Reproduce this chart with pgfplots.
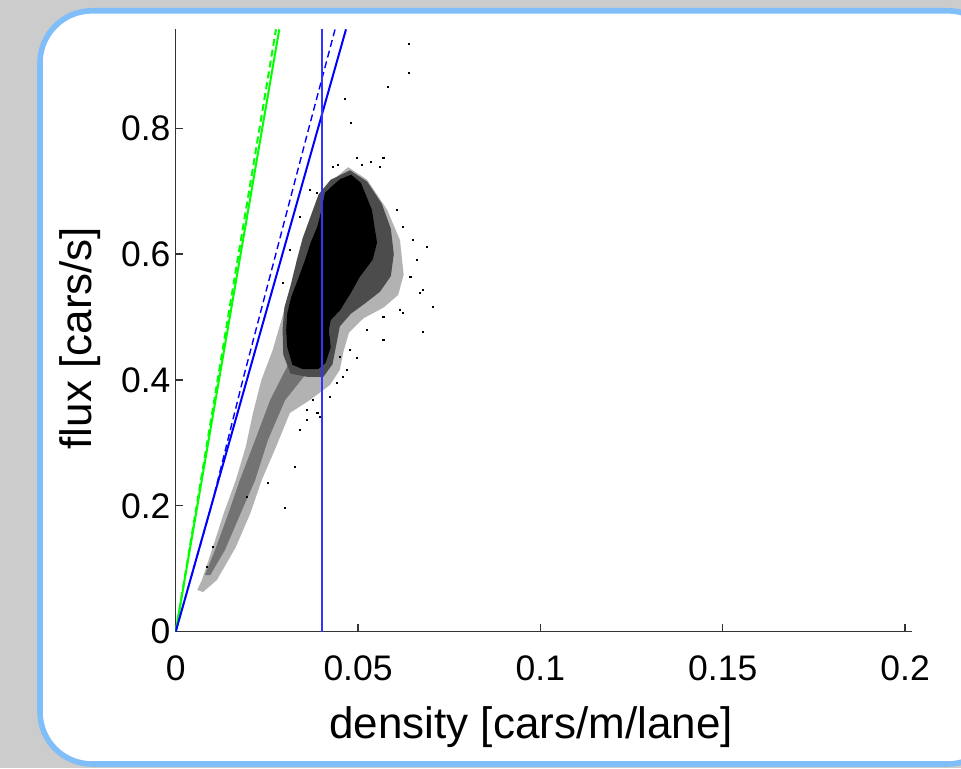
\documentclass[border=0pt]{standalone}
\usepackage{fontspec}
\setmainfont{Liberation Sans}
\usepackage{pgfplots}
\pgfplotsset{compat=1.18}
\definecolor{bggray}{RGB}{204,204,204}
\definecolor{frameblue}{RGB}{128,190,250}

\begin{document}
\begin{tikzpicture}
\useasboundingbox (0,0) rectangle (480.5pt,384pt);
\fill[bggray] (0,0) rectangle (480.5pt,384pt);
\begin{scope}
\clip (0,0) rectangle (480.5pt,384pt);
\draw[frameblue, line width=2.8pt, fill=white, rounded corners=26pt] (20pt,2pt) rectangle (500pt,378.6pt);
\end{scope}
\begin{axis}[
  at={(87.85pt,68.15pt)}, anchor=south west,
  scale only axis, width=368.15pt, height=301.2pt,
  xmin=0, xmax=0.2019, ymin=0, ymax=0.957,
  axis x line*=bottom, axis y line*=left,
  axis line style={black!80, line width=0.6pt},
  tick align=inside, major tick length=3.8pt,
  tick style={black!80, line width=0.6pt},
  xtick={0,0.05,0.1,0.15,0.2}, xticklabels={0,0.05,0.1,0.15,0.2},
  ytick={0,0.2,0.4,0.6,0.8}, yticklabels={0,0.2,0.4,0.6,0.8},
  scaled ticks=false,
  ticklabel style={font=\fontsize{17.75}{20}\selectfont},
  xticklabel style={yshift=-8.3pt},
  yticklabel style={xshift=0.9pt},
  label style={font=\fontsize{22}{26}\selectfont},
  xlabel={density [cars/m/lane]}, ylabel={flux [cars/s]},
  xlabel style={at={(axis description cs:0.4826,-0.177)}, anchor=base},
  ylabel style={at={(axis description cs:-0.1141,0.4875)}, anchor=base},
]

% sparse halo of the measured cloud
\addplot[fill=black!30, draw=none] coordinates {
  (0.0473,0.738) (0.0525,0.718) (0.0580,0.670) (0.0615,0.622) (0.0625,0.567)
  (0.0610,0.535) (0.0570,0.515) (0.0515,0.498) (0.0475,0.475) (0.0460,0.445)
  (0.0450,0.416) (0.0423,0.392) (0.0368,0.368) (0.0313,0.3475) (0.0275,0.2935)
  (0.0236,0.2411) (0.0205,0.1886) (0.0165,0.1346) (0.0113,0.0822) (0.0075,0.0630)
  (0.0059,0.0663) (0.0072,0.0822) (0.0102,0.1346) (0.0132,0.1886) (0.0165,0.2411)
  (0.0192,0.2935) (0.0212,0.3475) (0.0235,0.4000) (0.0266,0.4476) (0.0290,0.4953)
  (0.0305,0.5271) (0.0322,0.5588) (0.0333,0.5907) (0.0348,0.6224) (0.0368,0.6542)
  (0.0392,0.6860) (0.0420,0.7120)
} -- cycle;

% denser streak of the low-density branch
\addplot[fill=black!55, draw=none] coordinates {
  (0.0308,0.424) (0.0259,0.368) (0.0218,0.3047) (0.0176,0.2411) (0.0143,0.1854)
  (0.0108,0.1298) (0.0080,0.0901) (0.0095,0.0901) (0.0135,0.1298) (0.0176,0.1854)
  (0.0218,0.2411) (0.0253,0.3047) (0.0300,0.368) (0.0355,0.4079) (0.0396,0.419)
} -- cycle;

% dense ring round the core
\addplot[fill=black!70, draw=none] coordinates {
  (0.0478,0.733) (0.0525,0.715) (0.0565,0.680) (0.0590,0.640) (0.0598,0.600)
  (0.0590,0.565) (0.0560,0.540) (0.0520,0.522) (0.0480,0.505) (0.0450,0.485)
  (0.0440,0.455) (0.0430,0.425) (0.0405,0.405) (0.0360,0.405) (0.0315,0.410)
  (0.0295,0.440) (0.0293,0.480) (0.0298,0.515) (0.0315,0.550) (0.0332,0.590)
  (0.0348,0.625) (0.0370,0.660) (0.0392,0.695) (0.0425,0.718)
} -- cycle;

% saturated core
\addplot[fill=black, draw=none] coordinates {
  (0.0481,0.726) (0.0508,0.713) (0.0538,0.670) (0.0552,0.618) (0.0540,0.591)
  (0.0505,0.564) (0.0480,0.538) (0.0451,0.511) (0.0425,0.495) (0.0420,0.479)
  (0.0425,0.452) (0.0411,0.427) (0.0390,0.417) (0.0349,0.417) (0.0320,0.424)
  (0.0306,0.452) (0.0303,0.479) (0.0306,0.506) (0.0317,0.532) (0.0338,0.564)
  (0.0355,0.591) (0.0370,0.618) (0.0388,0.643) (0.0400,0.670) (0.0409,0.697)
  (0.0431,0.709) (0.0451,0.719)
} -- cycle;

% isolated measurements
\addplot[only marks, mark=square*, mark size=0.35pt, black] coordinates {
  (0.0640,0.9339) (0.0640,0.8878) (0.0582,0.8656) (0.0464,0.8465) (0.0481,0.8084)
  (0.0497,0.7527) (0.0569,0.7527) (0.0445,0.7416) (0.0387,0.6971) (0.0511,0.7416)
  (0.0536,0.7464) (0.0560,0.7384) (0.0607,0.6701) (0.0623,0.6431) (0.0651,0.6224)
  (0.0689,0.6113) (0.0662,0.5907) (0.0643,0.5636) (0.0678,0.5430) (0.0705,0.5160)
  (0.0678,0.4763) (0.0615,0.5112) (0.0569,0.5001) (0.0525,0.4794) (0.0478,0.4476)
  (0.0451,0.4365) (0.0442,0.3952) (0.0423,0.3730) (0.0341,0.3206) (0.0360,0.3524)
  (0.0294,0.5541) (0.0313,0.6065) (0.0341,0.6590) (0.0368,0.7019) (0.0431,0.7384)
  (0.0327,0.2617) (0.0300,0.1965) (0.0253,0.2362) (0.0196,0.2140) (0.0102,0.1346)
  (0.0086,0.1029) (0.0377,0.3682) (0.0388,0.3475) (0.0360,0.3364) (0.0670,0.5382)
  (0.0623,0.5064) (0.0569,0.4635) (0.0497,0.4349) (0.0459,0.4047) (0.0396,0.3412)
  (0.0470,0.4158)
};

% model lines
\addplot[green, line width=1pt] coordinates {(0,0) (0.0284,0.957)};
\addplot[green, line width=1pt, dash pattern=on 3.5pt off 2pt] coordinates {(0,0) (0.0275,0.957)};
\addplot[blue, line width=1pt] coordinates {(0,0) (0.0467,0.957)};
\addplot[blue, line width=0.7pt, dash pattern=on 3.5pt off 2pt] coordinates {
  (0,0) (0.0098,0.2) (0.0184,0.4) (0.0365,0.8) (0.0437,0.957)};
\addplot[draw=blue!80, line width=1pt] coordinates {(0.04,0) (0.04,0.957)};

\end{axis}
\end{tikzpicture}
\end{document}
